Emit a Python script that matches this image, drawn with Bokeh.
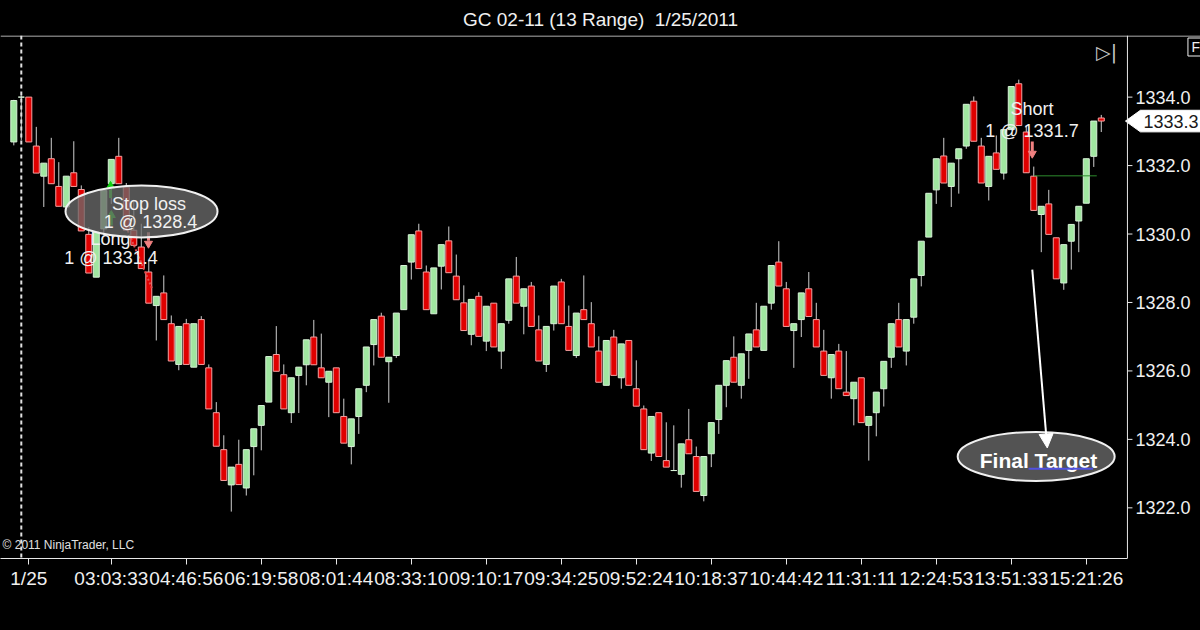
from bokeh.plotting import figure
from bokeh.models import (Range1d, FixedTicker, ColumnDataSource, Label, Span, Arrow, NormalHead)
from bokeh.embed import file_html
from bokeh.resources import INLINE
from bokeh.core.properties import value

# ---------------- data (13-tick range bars, GC 02-11, 1/25/2011) ----------------
opens = [1332.69, 1334.00, 1334.00, 1332.57, 1331.69, 1332.20, 1331.39, 1330.79, 1331.79, 1331.30,
         1329.99, 1328.74, 1330.15, 1331.47, 1332.27, 1331.37, 1330.11, 1329.62, 1328.89, 1327.91,
         1328.28, 1327.38, 1326.19, 1327.38, 1326.11, 1327.50, 1326.09, 1324.78, 1323.70, 1322.67,
         1323.27, 1322.58, 1323.79, 1324.41, 1325.09, 1326.48, 1325.89, 1324.78, 1325.87, 1326.18,
         1326.99, 1326.09, 1325.67, 1326.09, 1324.67, 1323.79, 1324.67, 1325.58, 1326.77, 1327.60,
         1326.27, 1326.45, 1327.79, 1329.18, 1330.09, 1328.89, 1327.67, 1329.06, 1329.80, 1328.77,
         1327.99, 1327.07, 1328.18, 1326.87, 1327.98, 1326.58, 1327.48, 1328.77, 1327.89, 1328.48,
         1327.20, 1326.19, 1327.38, 1328.60, 1327.30, 1326.45, 1327.79, 1327.38, 1326.58, 1325.58,
         1326.99, 1325.80, 1326.89, 1325.48, 1324.89, 1323.60, 1324.78, 1323.38, 1323.09, 1322.98,
         1323.99, 1323.50, 1322.36, 1323.58, 1324.58, 1325.58, 1326.40, 1325.58, 1326.60, 1327.20,
         1326.60, 1327.98, 1329.18, 1328.40, 1327.18, 1327.50, 1328.40, 1327.50, 1326.58, 1325.80,
         1326.58, 1325.38, 1325.19, 1325.80, 1324.41, 1324.78, 1325.48, 1326.40, 1327.50, 1326.58,
         1327.57, 1328.79, 1329.91, 1331.29, 1332.28, 1331.39, 1332.20, 1332.57, 1333.88, 1332.57,
         1331.39, 1332.37, 1331.78, 1333.05, 1334.39, 1332.98, 1331.69, 1330.57, 1330.88, 1329.89,
         1328.57, 1329.79, 1330.38, 1330.90, 1332.27, 1333.39]
highs = [1333.92, 1334.05, 1334.00, 1333.13, 1332.07, 1332.81, 1332.10, 1331.69, 1332.71, 1331.42,
         1330.20, 1330.06, 1331.27, 1332.18, 1332.81, 1331.49, 1331.00, 1330.30, 1329.23, 1328.18,
         1328.79, 1327.62, 1327.30, 1327.52, 1327.38, 1327.60, 1326.19, 1325.09, 1324.12, 1323.19,
         1323.99, 1323.70, 1324.31, 1324.99, 1326.42, 1327.31, 1326.19, 1325.80, 1326.11, 1326.91,
         1327.49, 1327.09, 1325.99, 1326.09, 1325.19, 1324.60, 1325.48, 1326.70, 1327.50, 1327.70,
         1326.40, 1327.69, 1329.08, 1329.98, 1330.30, 1329.08, 1329.01, 1329.69, 1330.22, 1329.40,
         1328.50, 1328.09, 1328.30, 1327.89, 1327.98, 1327.38, 1328.69, 1329.33, 1328.40, 1328.60,
         1327.62, 1327.30, 1328.48, 1328.69, 1327.91, 1327.69, 1328.79, 1328.01, 1327.01, 1326.89,
         1327.20, 1326.79, 1326.89, 1326.31, 1324.99, 1324.67, 1324.78, 1324.50, 1324.41, 1323.87,
         1324.89, 1323.79, 1323.50, 1324.49, 1325.58, 1326.30, 1327.01, 1326.50, 1327.08, 1327.99,
         1327.89, 1329.08, 1329.79, 1328.60, 1327.38, 1328.28, 1328.89, 1327.99, 1327.20, 1326.48,
         1326.79, 1326.58, 1325.67, 1325.80, 1324.67, 1325.38, 1326.28, 1327.38, 1327.99, 1327.50,
         1328.69, 1329.79, 1331.19, 1332.20, 1332.81, 1332.07, 1332.49, 1333.79, 1334.02, 1332.81,
         1332.27, 1332.88, 1333.05, 1334.31, 1334.51, 1333.17, 1331.97, 1330.81, 1331.29, 1329.89,
         1329.69, 1330.28, 1330.81, 1332.20, 1333.30, 1333.48]
lows = [1332.59, 1332.75, 1332.69, 1331.78, 1330.79, 1331.47, 1330.81, 1330.69, 1331.39, 1330.09,
        1328.86, 1328.74, 1329.97, 1330.88, 1331.47, 1330.11, 1329.67, 1328.99, 1327.98, 1326.89,
        1327.50, 1326.29, 1326.02, 1326.19, 1326.11, 1326.19, 1324.89, 1323.80, 1322.80, 1321.89,
        1322.68, 1322.36, 1322.95, 1323.68, 1325.09, 1325.99, 1324.89, 1324.48, 1324.77, 1325.58,
        1326.18, 1325.80, 1324.65, 1324.78, 1323.89, 1323.27, 1324.16, 1325.38, 1326.16, 1326.40,
        1325.07, 1326.38, 1327.79, 1328.67, 1328.99, 1327.79, 1327.67, 1328.38, 1328.87, 1328.08,
        1327.18, 1326.75, 1327.01, 1326.58, 1326.70, 1326.06, 1327.38, 1327.98, 1327.07, 1327.30,
        1326.29, 1325.97, 1327.18, 1327.38, 1326.60, 1326.38, 1327.50, 1326.70, 1325.67, 1325.58,
        1325.87, 1325.48, 1325.58, 1324.97, 1323.70, 1323.37, 1323.50, 1323.19, 1323.09, 1322.59,
        1323.58, 1322.48, 1322.19, 1323.19, 1324.16, 1324.94, 1325.67, 1325.19, 1325.77, 1326.70,
        1326.60, 1327.79, 1328.48, 1327.30, 1326.09, 1326.99, 1327.59, 1326.70, 1325.87, 1325.19,
        1325.48, 1325.28, 1324.41, 1324.49, 1323.38, 1324.09, 1324.96, 1326.09, 1326.70, 1326.16,
        1327.38, 1328.47, 1329.91, 1330.88, 1331.49, 1330.79, 1331.18, 1332.49, 1332.71, 1331.49,
        1330.98, 1331.89, 1331.59, 1333.05, 1333.17, 1331.79, 1330.69, 1329.47, 1329.99, 1328.69,
        1328.37, 1328.96, 1329.47, 1330.90, 1331.96, 1332.98]
closes = [1333.90, 1334.00, 1332.69, 1331.78, 1332.07, 1331.47, 1330.81, 1331.69, 1331.39, 1330.09,
          1328.86, 1330.06, 1331.27, 1332.18, 1331.47, 1330.11, 1329.67, 1328.99, 1327.98, 1328.18,
          1327.50, 1326.29, 1327.30, 1326.19, 1327.38, 1326.19, 1324.89, 1323.80, 1322.80, 1323.19,
          1322.68, 1323.70, 1324.31, 1324.99, 1326.42, 1325.99, 1324.89, 1325.80, 1326.11, 1326.91,
          1326.18, 1325.80, 1325.99, 1324.78, 1323.89, 1324.60, 1325.48, 1326.70, 1327.50, 1326.40,
          1326.40, 1327.69, 1329.08, 1329.98, 1328.99, 1327.79, 1329.01, 1329.69, 1328.87, 1328.08,
          1327.18, 1328.09, 1327.01, 1327.89, 1326.70, 1327.38, 1328.69, 1327.98, 1328.40, 1327.30,
          1326.29, 1327.30, 1328.48, 1327.38, 1326.60, 1327.69, 1327.50, 1326.70, 1325.67, 1326.89,
          1325.87, 1326.79, 1325.58, 1324.97, 1323.70, 1324.67, 1323.50, 1323.19, 1323.09, 1323.87,
          1323.58, 1322.48, 1323.50, 1324.49, 1325.58, 1326.30, 1325.67, 1326.50, 1327.08, 1326.70,
          1327.89, 1329.08, 1328.48, 1327.30, 1327.38, 1328.28, 1327.59, 1326.70, 1325.87, 1326.48,
          1325.48, 1325.28, 1325.67, 1324.49, 1324.67, 1325.38, 1326.28, 1327.38, 1326.70, 1327.50,
          1328.69, 1329.79, 1331.19, 1332.20, 1331.49, 1332.07, 1332.49, 1333.79, 1332.71, 1331.49,
          1332.27, 1331.89, 1333.05, 1334.31, 1333.17, 1331.79, 1330.69, 1330.81, 1329.99, 1328.69,
          1329.69, 1330.28, 1330.81, 1332.20, 1333.30, 1333.30]

tick_bars = [2, 13, 23, 33, 43, 53, 63, 73, 83, 93, 103, 113, 123, 133, 143]
tick_labels = ["1/25", "03:03:33", "04:46:56", "06:19:58", "08:01:44", "08:33:10", "09:10:17",
               "09:34:25", "09:52:24", "10:18:37", "10:44:42", "11:31:11", "12:24:53",
               "13:51:33", "15:21:26"]
price_ticks = [1322.0, 1324.0, 1326.0, 1328.0, 1330.0, 1332.0, 1334.0]

session_break_bar = 1
long_entry = 1331.4
stop_exit = 1328.4
short_entry = 1331.7
last_price = closes[-1]

# ---------------- layout constants ----------------
FONT = "Liberation Sans"
PX = 7.5                 # pixels per bar
PPY = 34.22              # pixels per price point
X0, X1 = -1.773, 158.23  # full-width frame in bar units
Y0, Y1 = 1320.52, 1335.80
SCALE_X = 148.49         # bar position of the price-scale border line

n = len(opens)
xs = list(range(n))
up = [c >= o for o, c in zip(opens, closes)]
src = ColumnDataSource(dict(
    x=xs, open=opens, high=highs, low=lows, close=closes,
    top=[max(o, c) for o, c in zip(opens, closes)],
    bottom=[min(o, c) for o, c in zip(opens, closes)],
    fill=["#a0e6a0" if u else "#e00000" for u in up],
    line=["#d8f2d8" if u else "#f5a0a0" for u in up],
))

p = figure(width=1200, height=630, output_backend="svg", toolbar_location=None,
           x_range=Range1d(X0, X1), y_range=Range1d(Y0, Y1), y_axis_location=None,
           background_fill_color="black", border_fill_color="black",
           min_border_left=0, min_border_right=0, min_border_top=35, min_border_bottom=72)
p.outline_line_color = None
p.grid.visible = False

p.title.text = "GC 02-11 (13 Range)\u00a0 1/25/2011"
p.title.align = "center"
p.title.text_color = "#f0f0f0"
p.title.text_font = FONT
p.title.text_font_size = "19px"
p.title.text_font_style = "normal"
p.title.standoff = 12

xa = p.xaxis[0]
xa.ticker = FixedTicker(ticks=tick_bars)
xa.major_label_overrides = {t: l for t, l in zip(tick_bars, tick_labels)}
xa.bounds = (X0, SCALE_X)
xa.axis_line_color = "#e8e8e8"
xa.major_tick_line_color = "#e8e8e8"
xa.major_tick_in = 0
xa.major_tick_out = 6
xa.minor_tick_line_color = None
xa.major_label_standoff = 3
xa.major_label_text_color = "#f0f0f0"
xa.major_label_text_font = FONT
xa.major_label_text_font_size = "19px"

# frame lines: top separator and the border of the price scale
p.add_layout(Span(location=Y1 - 0.5 / PPY, dimension="width", line_color="#e8e8e8", line_width=1))
p.add_layout(Span(location=SCALE_X, dimension="height", line_color="#e8e8e8", line_width=1))

# price scale (right): tick marks and labels
p.segment(x0=[SCALE_X] * len(price_ticks), y0=price_ticks,
          x1=[SCALE_X + 5 / PX] * len(price_ticks), y1=price_ticks,
          line_color="#e8e8e8", line_width=1)
p.text(x=[SCALE_X + 8 / PX] * len(price_ticks), y=price_ticks,
       text=["%.1f" % t for t in price_ticks], text_font=value(FONT), text_font_size="18px",
       text_color="#f0f0f0", text_align="left", text_baseline="middle")

# session break
p.add_layout(Span(location=session_break_bar, dimension="height", line_color="#e0e0e0",
                  line_width=2, line_dash="4 3"))

# candles
p.segment(x0="x", y0="low", x1="x", y1="high", source=src, line_color="#cfcfcf", line_width=1)
p.vbar(x="x", width=0.8, top="top", bottom="bottom", fill_color="fill", line_color="line",
       line_width=1, source=src)

# long trade: entry arrows, exit arrow and dotted trade line
p.segment(x0=[15.0], y0=[1330.2], x1=[18.45], y1=[stop_exit], line_color="#e05050",
          line_width=2, line_dash="2 2")
p.segment(x0=[12.9, 13.0], y0=[long_entry - 0.35, 1330.25], x1=[12.9, 13.0],
          y1=[long_entry - 0.1, 1330.5], line_color="#10d010", line_width=3)
p.scatter(x=[12.9, 13.0], y=[long_entry, 1330.55], marker="triangle", size=8,
          fill_color="#10d010", line_color="#10d010")
p.segment(x0=[17.96], y0=[1330.05], x1=[17.96], y1=[1329.8], line_color="#f08080", line_width=3)
p.scatter(x=[17.96], y=[1329.72], marker="inverted_triangle", size=8,
          fill_color="#f08080", line_color="#f08080")

# Long label (partly behind the ellipse)
p.text(x=[12.89, 12.96], y=[1329.86, 1329.30], text=["Long", "1 @ " + str(long_entry)],
       text_font=value(FONT), text_font_size="18px", text_color="#f0f0f0",
       text_align="center", text_baseline="middle")

# Stop loss ellipse
p.ellipse(x=[17.03], y=[1330.66], width=152, height=52, width_units="screen",
          height_units="screen", fill_color="#6a6a6a", fill_alpha=0.78,
          line_color="#f0f0f0", line_width=2)
p.text(x=[18.03, 18.23], y=[1330.89, 1330.34], text=["Stop loss", "1 @ " + str(stop_exit)],
       text_font=value(FONT), text_font_size="18px", text_color="#f0f0f0",
       text_align="center", text_baseline="middle")

# short trade
p.segment(x0=[136.0], y0=[short_entry], x1=[144.4], y1=[short_entry], line_color="#2e8b2e",
          line_width=1)
p.segment(x0=[135.8], y0=[1332.7], x1=[135.8], y1=[1332.42], line_color="#f08080", line_width=3)
p.scatter(x=[135.8], y=[1332.35], marker="inverted_triangle", size=8,
          fill_color="#f08080", line_color="#f08080")
p.text(x=[135.76, 135.76], y=[1333.64, 1333.01], text=["Short", "1 @ " + str(short_entry)],
       text_font=value(FONT), text_font_size="18px", text_color="#f0f0f0",
       text_align="center", text_baseline="middle")

# Final target
p.add_layout(Arrow(end=NormalHead(size=14, fill_color="white", line_color="white"),
                   x_start=135.8, y_start=1328.96, x_end=137.8, y_end=1323.75,
                   line_color="white", line_width=2))
p.ellipse(x=[136.32], y=[1323.50], width=157, height=49, width_units="screen",
          height_units="screen", fill_color="#6a6a6a", fill_alpha=0.78,
          line_color="#f0f0f0", line_width=2)
p.text(x=[136.63], y=[1323.37], text=["Final Target"], text_font=value(FONT),
       text_font_size="21px", text_font_style="bold", text_color="#ffffff",
       text_align="center", text_baseline="middle")
p.segment(x0=[135.3], y0=[1323.14], x1=[143.9], y1=[1323.14], line_color="#5050e0",
          line_width=2)

# copyright
p.add_layout(Label(x=-1.5, y=1320.9, text="\u00a9 2011 NinjaTrader, LLC", text_color="#e0e0e0",
                   text_font=FONT, text_font_size="12px", text_baseline="middle"))

# navigation icon
p.add_layout(Label(x=144.3, y=1335.32, text="\u25b7|", text_color="#c8c8c8",
                   text_font="DejaVu Sans", text_font_size="19px", text_baseline="middle"))

# last price tag on the price scale
hh = 10.8 / PPY
tip_x, box_x = SCALE_X - 2 / PX, SCALE_X + 13 / PX
p.patch(x=[tip_x, box_x, X1 + 1, X1 + 1, box_x],
        y=[last_price, last_price + hh, last_price + hh, last_price - hh, last_price - hh],
        fill_color="white", line_color="white")
p.text(x=[SCALE_X + 16 / PX], y=[last_price], text=["%.1f" % last_price], text_font=value(FONT),
       text_font_size="18px", text_color="#1a1a1a", text_align="left", text_baseline="middle")

# "F" button at the top right corner
p.rect(x=[SCALE_X + 69 / PX], y=[Y1 - 11.5 / PPY], width=17, height=18, width_units="screen",
       height_units="screen", fill_color="black", line_color="#f0f0f0", line_width=1)
p.text(x=[SCALE_X + 64 / PX], y=[Y1 - 11.5 / PPY], text=["F"], text_font=value(FONT),
       text_font_size="14px", text_color="#f0f0f0", text_align="left", text_baseline="middle")

html = file_html(p, INLINE, title="GC 02-11 (13 Range) 1/25/2011")
html = html.replace("<head>", "<head><style>html,body{margin:0 !important;padding:0;"
                    "background:#000;overflow:hidden;}</style>", 1)
open("out.html", "w").write(html)
